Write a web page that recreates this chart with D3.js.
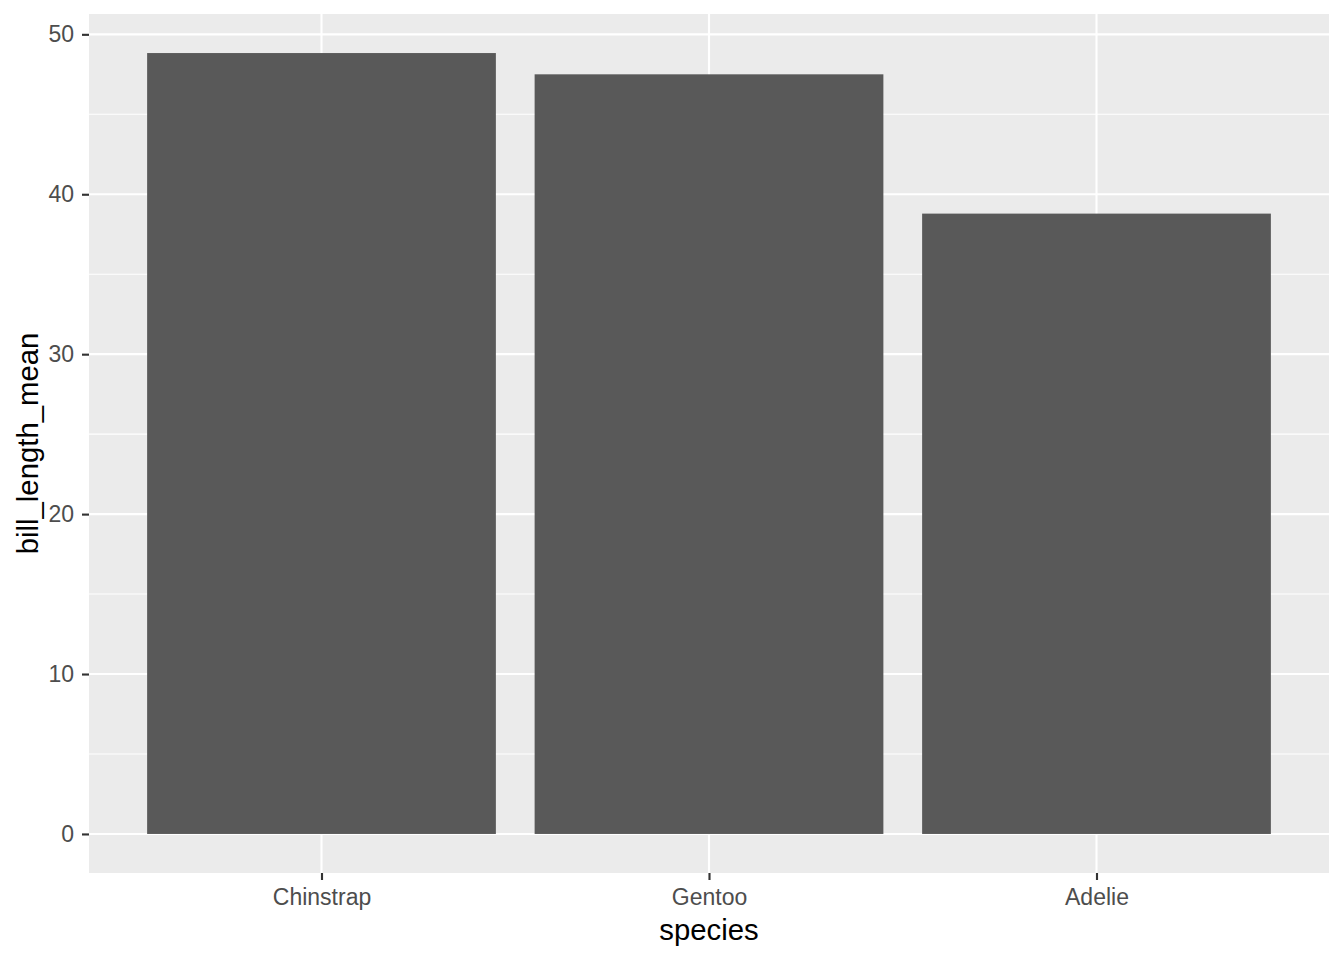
<!DOCTYPE html>
<html>
<head>
<meta charset="utf-8">
<script src="https://cdn.jsdelivr.net/npm/d3@7"></script>
<style>
  body { margin: 0; background: #fff; }
  text { font-family: "Liberation Sans", Arial, sans-serif; }
</style>
</head>
<body>
<svg width="1344" height="960"></svg>
<script>
const species = ["Chinstrap", "Gentoo", "Adelie"]
const billLengthMean = [48.83, 47.50, 38.79]
const yTicks = [0, 10, 20, 30, 40, 50]
const yMinor = [5, 15, 25, 35, 45]

const svg = d3.select("svg")
const pLeft = 89, pRight = 1329, pTop = 14, pBottom = 873

// ggplot style expansion: 5% on continuous, 0.6 on discrete
const yMax = d3.max(billLengthMean)
const yScale = d3.scaleLinear()
  .domain([-0.05 * yMax, yMax * 1.05])
  .range([pBottom, pTop])

const xScale = d3.scalePoint()
  .domain(species)
  .range([pLeft, pRight])
  .padding(0.6)

const barWidth = xScale.step() * 0.9

svg.append("rect")
  .attr("x", pLeft).attr("y", pTop)
  .attr("width", pRight - pLeft).attr("height", pBottom - pTop)
  .attr("fill", "#EBEBEB")

svg.selectAll("line.minor")
  .data(yMinor)
  .enter()
  .append("line")
  .attr("class", "minor")
  .attr("x1", pLeft).attr("x2", pRight)
  .attr("y1", d => yScale(d)).attr("y2", d => yScale(d))
  .attr("stroke", "#fff").attr("stroke-width", 1.07)

svg.selectAll("line.major")
  .data(yTicks)
  .enter()
  .append("line")
  .attr("class", "major")
  .attr("x1", pLeft).attr("x2", pRight)
  .attr("y1", d => yScale(d)).attr("y2", d => yScale(d))
  .attr("stroke", "#fff").attr("stroke-width", 2.13)

svg.selectAll("line.vmajor")
  .data(species)
  .enter()
  .append("line")
  .attr("class", "vmajor")
  .attr("x1", d => xScale(d)).attr("x2", d => xScale(d))
  .attr("y1", pTop).attr("y2", pBottom)
  .attr("stroke", "#fff").attr("stroke-width", 2.13)

svg.selectAll("rect.bar")
  .data(billLengthMean)
  .enter()
  .append("rect")
  .attr("class", "bar")
  .attr("x", (d, i) => xScale(species[i]) - barWidth / 2)
  .attr("y", d => yScale(d))
  .attr("width", barWidth)
  .attr("height", d => yScale(0) - yScale(d))
  .attr("fill", "#595959")

// axes
const yAxis = d3.axisLeft(yScale).tickValues(yTicks).tickSize(7).tickPadding(8)
const yG = svg.append("g").attr("transform", `translate(${pLeft},0)`).call(yAxis)
const xAxis = d3.axisBottom(xScale).tickSize(7).tickPadding(9)
const xG = svg.append("g").attr("transform", `translate(0,${pBottom})`).call(xAxis)

for (const g of [yG, xG]) {
  g.select(".domain").remove()
  g.selectAll(".tick line").attr("stroke", "#333333").attr("stroke-width", 2.13)
  g.selectAll(".tick text")
    .attr("fill", "#4D4D4D")
    .style("font-size", "23px")
    .style("font-family", "'Liberation Sans', Arial, sans-serif")
}

svg.append("text")
  .attr("x", (pLeft + pRight) / 2)
  .attr("y", 940)
  .attr("text-anchor", "middle")
  .style("font-size", "29.3px")
  .text("species")

svg.append("text")
  .attr("transform", `translate(38,${(pTop + pBottom) / 2}) rotate(-90)`)
  .attr("text-anchor", "middle")
  .style("font-size", "29.3px")
  .text("bill_length_mean")
</script>
</body>
</html>
